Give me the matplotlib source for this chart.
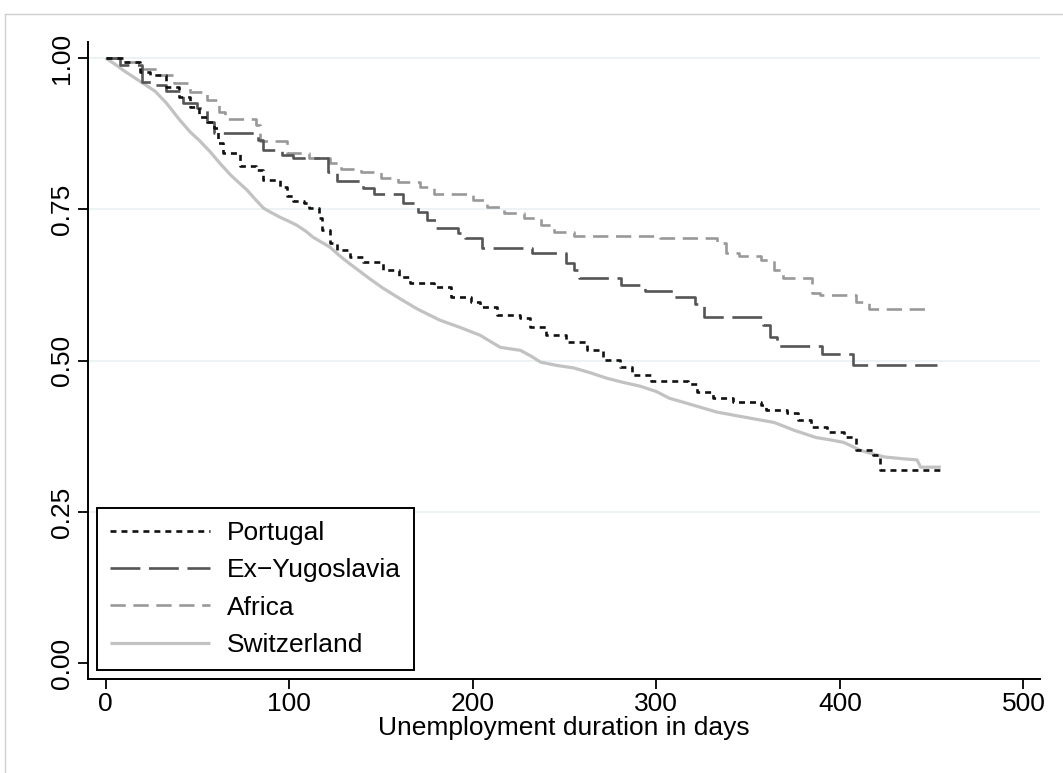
import matplotlib
matplotlib.use("Agg")
import matplotlib.pyplot as plt
from matplotlib.lines import Line2D

plt.rcParams['font.family'] = ['Liberation Sans', 'DejaVu Sans']
plt.rcParams['lines.scale_dashes'] = False

# ---- data ----
groups = ["Portugal", "Ex\u2212Yugoslavia", "Africa", "Switzerland"]

portugal_t = [0, 9.5, 18.7, 24, 33, 40, 46, 51, 55, 59, 61, 64, 73, 82, 86, 95, 99, 102,
              108, 111, 116, 118, 122, 126, 133, 140, 151, 160, 166, 179, 188, 199, 204,
              213, 226, 231, 240, 251, 262, 271, 280, 287, 297, 317, 322, 331, 342, 357,
              360, 371, 377, 384, 393, 402, 409, 418, 422]
portugal_s = [1.0, 0.993, 0.977, 0.972, 0.952, 0.936, 0.919, 0.902, 0.894, 0.884, 0.860,
              0.843, 0.822, 0.815, 0.798, 0.787, 0.772, 0.764, 0.760, 0.752, 0.736, 0.716,
              0.694, 0.683, 0.672, 0.663, 0.650, 0.638, 0.628, 0.622, 0.605, 0.597, 0.588,
              0.575, 0.570, 0.555, 0.542, 0.531, 0.517, 0.501, 0.489, 0.476, 0.466, 0.462,
              0.448, 0.438, 0.431, 0.426, 0.418, 0.413, 0.402, 0.390, 0.382, 0.374, 0.352,
              0.344, 0.319]

yugo_t = [0, 8, 20, 27, 33, 42, 50, 55, 59, 83, 86, 96, 102, 121, 126, 140, 146, 162,
          170, 175, 180, 192, 196, 205, 232, 251, 255, 258, 281, 294, 309, 321, 326, 358,
          362, 366, 390, 407]
yugo_s = [1.0, 0.988, 0.960, 0.955, 0.945, 0.926, 0.917, 0.894, 0.876, 0.864, 0.848,
          0.840, 0.835, 0.812, 0.797, 0.785, 0.775, 0.760, 0.745, 0.732, 0.719, 0.711,
          0.702, 0.686, 0.678, 0.661, 0.650, 0.636, 0.625, 0.615, 0.605, 0.593, 0.572,
          0.559, 0.539, 0.524, 0.511, 0.493]

africa_t = [0, 8, 20, 29, 37, 46, 55, 62, 65, 82, 84, 99, 111, 122, 128, 139, 150, 159,
            171, 179, 200, 208, 217, 228, 237, 244, 255, 302, 333, 338, 345, 357, 364, 369,
            385, 389, 409, 416]
africa_s = [1.0, 0.993, 0.982, 0.972, 0.959, 0.944, 0.930, 0.911, 0.899, 0.889, 0.863,
            0.843, 0.835, 0.826, 0.817, 0.811, 0.801, 0.795, 0.787, 0.776, 0.765, 0.754,
            0.744, 0.736, 0.724, 0.712, 0.706, 0.702, 0.694, 0.678, 0.673, 0.666, 0.650,
            0.636, 0.611, 0.608, 0.597, 0.585]

swiss_t = [0, 5, 10, 15, 21, 27, 33, 40, 46, 51, 57, 62, 68, 73, 77, 82, 86, 90, 95, 100,
           104, 109, 113, 118, 122, 128, 133, 137, 144, 151, 160, 170, 182, 193, 204, 210,
           215, 226, 232, 237, 246, 255, 264, 273, 282, 291, 300, 307, 315, 324, 333, 342,
           351, 364, 370, 375, 381, 387, 395, 402, 407, 411, 418, 424, 434, 442, 444]
swiss_s = [1.0, 0.990, 0.979, 0.969, 0.957, 0.945, 0.926, 0.899, 0.878, 0.864, 0.845,
           0.827, 0.807, 0.793, 0.782, 0.765, 0.752, 0.745, 0.737, 0.730, 0.724, 0.714,
           0.704, 0.695, 0.688, 0.672, 0.660, 0.651, 0.635, 0.620, 0.603, 0.585, 0.567,
           0.555, 0.542, 0.531, 0.522, 0.517, 0.507, 0.4975, 0.492, 0.488, 0.480, 0.471,
           0.464, 0.458, 0.449, 0.438, 0.431, 0.423, 0.415, 0.410, 0.405, 0.398, 0.391,
           0.385, 0.379, 0.373, 0.369, 0.365, 0.358, 0.352, 0.346, 0.341, 0.338, 0.336,
           0.324]

end_times = [455, 453, 449, 455]

x_ticks = [0, 100, 200, 300, 400, 500]
y_ticks = [0.0, 0.25, 0.5, 0.75, 1.0]
y_ticklabels = ["0.00", "0.25", "0.50", "0.75", "1.00"]
x_label = "Unemployment duration in days"

# ---- styles ----
styles = [
    dict(color="#111111", lw=1.9, dashes=(4.3, 3.6), step=True),
    dict(color="#555555", lw=1.9, dashes=(21.5, 6.2), step=True),
    dict(color="#999999", lw=1.9, dashes=(11.0, 5.5), step=True),
    dict(color="#c2c2c2", lw=2.3, dashes=None, step=False),
]
FS = 19

fig = plt.figure(figsize=(10.63, 7.73), dpi=100)
fig.patch.set_facecolor("white")
ax = fig.add_axes([88 / 1063, 1 - 679 / 773, (1040 - 88) / 1063, (679 - 41.7) / 773])

# outer light frame
fig.add_artist(Line2D([5 / 1063, 1.01], [1 - 14 / 773, 1 - 14 / 773],
                      transform=fig.transFigure, color="#cfcfcf", lw=1.0))
fig.add_artist(Line2D([5 / 1063, 5 / 1063], [-0.01, 1 - 14 / 773],
                      transform=fig.transFigure, color="#cfcfcf", lw=1.0))

for v in y_ticks[1:]:
    ax.axhline(v, color="#eaf2f3", lw=1.3, zorder=0)

series = [(portugal_t, portugal_s), (yugo_t, yugo_s), (africa_t, africa_s), (swiss_t, swiss_s)]
order = [3, 2, 1, 0]
handles = {}
for i in order:
    t, s = series[i]
    tt = list(t) + [end_times[i]]
    ss = list(s) + [s[-1]]
    st = styles[i]
    if st["step"]:
        line, = ax.step(tt, ss, where="post", color=st["color"], lw=st["lw"],
                        zorder=2 + (3 - i), solid_capstyle="butt", dash_capstyle="butt")
    else:
        line, = ax.plot(tt, ss, color=st["color"], lw=st["lw"], zorder=2 + (3 - i),
                        solid_capstyle="butt", solid_joinstyle="round")
    if st["dashes"] is not None:
        line.set_dashes(st["dashes"])
    handles[i] = line

ax.set_xlim(-9.6, 509)
ax.set_ylim(-0.026, 1.027)
ax.set_xticks(x_ticks)
ax.set_yticks(y_ticks)
ax.set_yticklabels(y_ticklabels, rotation=90, va="center")
for sp in ["top", "right"]:
    ax.spines[sp].set_visible(False)
for sp in ["left", "bottom"]:
    ax.spines[sp].set_linewidth(1.4)
ax.tick_params(axis="both", direction="out", length=7, width=1.3, labelsize=FS, colors="black")
ax.tick_params(axis="x", pad=2.5)
ax.tick_params(axis="y", pad=3)
ax.set_xlabel(x_label, fontsize=FS, labelpad=0)

leg = ax.legend([handles[i] for i in range(4)], groups, loc="lower left",
                bbox_to_anchor=(0.0095, 0.0141), borderaxespad=0, fontsize=FS,
                handlelength=3.79, handletextpad=0.64, labelspacing=0.5,
                borderpad=0.5, fancybox=False, framealpha=1, edgecolor="black")
leg.get_frame().set_linewidth(1.4)

fig.savefig("out.png", dpi=100, facecolor="white")
